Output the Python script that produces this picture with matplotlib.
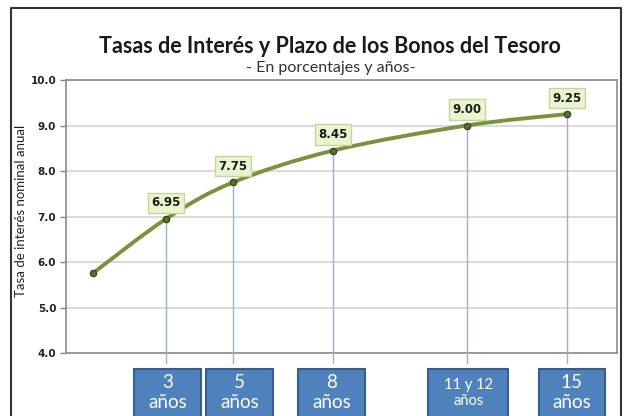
import matplotlib
matplotlib.use("Agg")
import matplotlib.pyplot as plt
from matplotlib.path import Path
from matplotlib.patches import PathPatch, Rectangle
import matplotlib.transforms as mtransforms

# data
plazo = [0.8, 3, 5, 8, 12, 15]
tasa = [5.75, 6.95, 7.75, 8.45, 9.00, 9.25]
etiquetas = ["6.95", "7.75", "8.45", "9.00", "9.25"]
cajas = ["3\naños", "5\naños", "8\naños", "11 y 12\naños", "15\naños"]
caja_x = [3.05, 5.2, 7.95, 12.05, 15.15]
caja_w = [2.0, 2.0, 2.0, 2.4, 2.0]

verde = "#77933C"
azul = "#4F81BD"

fig = plt.figure(figsize=(6.25, 4.16), dpi=100)
ax = fig.add_axes([0.1056, 0.1514, 0.8816, 0.6563])

# smooth line (bezier through the points, like excel)
pts = list(zip(plazo, tasa))
verts = [pts[0]]
codes = [Path.MOVETO]
for i in range(len(pts) - 1):
    p0 = pts[i - 1] if i > 0 else pts[i]
    p1 = pts[i]
    p2 = pts[i + 1]
    p3 = pts[i + 2] if i + 2 < len(pts) else pts[i + 1]
    c1 = (p1[0] + (p2[0] - p0[0]) / 6, p1[1] + (p2[1] - p0[1]) / 6)
    c2 = (p2[0] - (p3[0] - p1[0]) / 6, p2[1] - (p3[1] - p1[1]) / 6)
    verts += [c1, c2, p2]
    codes += [Path.CURVE4] * 3
ax.add_patch(PathPatch(Path(verts, codes), fill=False, edgecolor=verde, lw=2.8, zorder=4))
ax.plot(plazo, tasa, "o", color="#5A7030", ms=4.5, mec="#3B4A1E", zorder=5)

# drop lines
for x, y in zip(plazo[1:], tasa[1:]):
    ax.plot([x, x], [y, 3.78], color="#95B3D7", lw=1, clip_on=False, zorder=3)

# data labels
for x, y, t in zip(plazo[1:], tasa[1:], etiquetas):
    ax.annotate(t, (x, y), xytext=(0, 16), textcoords="offset pixels",
                ha="center", va="center", fontsize=8.5, fontweight="bold", color="#1a1a1a",
                bbox=dict(boxstyle="square,pad=0.3", fc="#EAF5D0", ec="#C3D69B", lw=1), zorder=6)

ax.set_xlim(0, 16.5)
ax.set_ylim(4, 10)
ax.set_yticks([4, 5, 6, 7, 8, 9, 10])
ax.set_yticklabels([f"{v:.1f}" for v in [4, 5, 6, 7, 8, 9, 10]], fontsize=7.5, fontweight="bold", color="#222222")
ax.set_xticks([])
ax.tick_params(axis="y", length=4, color="#888888", width=1, pad=3)
ax.yaxis.grid(True, color="#D4D4D4", lw=1.2)
ax.set_axisbelow(True)
for s in ax.spines.values():
    s.set_color("#8C8C8C")
    s.set_linewidth(1.2)
ax.set_ylabel("Tasa de interés nominal anual", fontsize=9.5, family="Lato", color="#222222")
ax.yaxis.set_label_coords(-0.071, 0.52)

fig.text(0.528, 0.889, "Tasas de Interés y Plazo de los Bonos del Tesoro", ha="center", va="center",
         fontsize=15.5, fontweight="bold", family="Lato", color="#1a1a1a")
fig.text(0.53, 0.836, "- En porcentajes y años-", ha="center", va="center",
         fontsize=11.5, family="Lato", color="#333333")

# year boxes under the axis
trans = mtransforms.blended_transform_factory(ax.transData, fig.transFigure)
for cx, w, t in zip(caja_x, caja_w, cajas):
    ax.add_patch(Rectangle((cx - w / 2, -0.01), w, 0.123, transform=trans, fc=azul, ec="#385D8A",
                           lw=1.5, clip_on=False, zorder=2))
    fs = 10.5 if "y" in t else 13.5
    ls = 1.15 if "y" in t else 1.2
    ax.text(cx, 0.056, t, transform=trans, ha="center", va="center", color="white",
            fontsize=fs, family="Lato", linespacing=ls, zorder=3, clip_on=False)

# outer frame
fig.add_artist(plt.Line2D([0.018, 0.018, 0.994, 0.994], [0, 0.981, 0.981, 0],
                          color="#333333", lw=1.5))

fig.savefig("out.png", dpi=100)
